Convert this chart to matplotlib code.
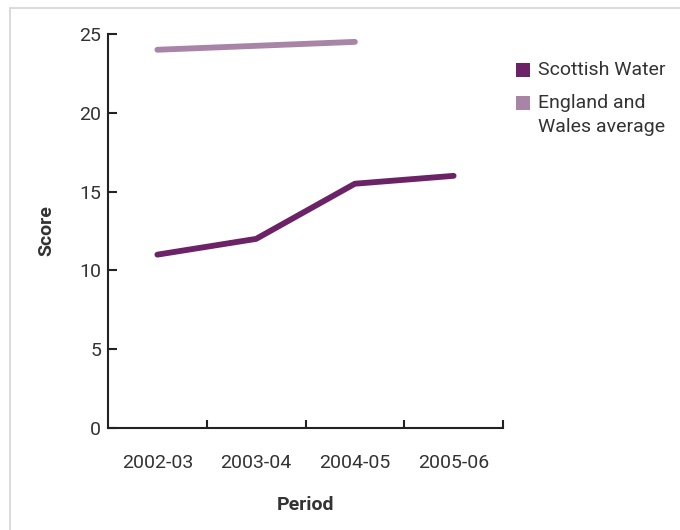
import matplotlib
matplotlib.use("Agg")
import matplotlib.pyplot as plt
from matplotlib.patches import Rectangle

plt.rcParams['font.family'] = ['Roboto', 'DejaVu Sans']

periods = ["2002-03", "2003-04", "2004-05", "2005-06"]
scottish_water = [11, 12, 15.5, 16]
england_wales = [24, 24.25, 24.5]
series_names = ["Scottish Water", "England and\nWales average"]

c_dark = "#6b2266"
c_light = "#a884a6"
txt = "#333333"

W, H = 680, 530
fig = plt.figure(figsize=(6.8, 5.3), dpi=100)
fig.patches.append(Rectangle((10/W, -0.1), 1.2, 1 - 7.5/H + 0.1, transform=fig.transFigure,
                             fill=False, edgecolor="#d4d4d4", linewidth=1.2))
ax = fig.add_axes([108/W, 1 - 428/H, (503 - 108)/W, (428 - 34)/H])

x = list(range(len(periods)))
ax.plot(x, scottish_water, color=c_dark, lw=4.2, solid_capstyle='round', solid_joinstyle='round')
ax.plot(x[:len(england_wales)], england_wales, color=c_light, lw=4.2, solid_capstyle='round')

ax.set_xlim(-0.5, 3.5)
ax.set_ylim(0, 25)
ax.set_yticks([0, 5, 10, 15, 20, 25])
ax.set_xticks(x)
ax.set_xticklabels(periods)
ax.set_xticks([0.5, 1.5, 2.5, 3.5], minor=True)

for s in ["top", "right"]:
    ax.spines[s].set_visible(False)
for s in ["left", "bottom"]:
    ax.spines[s].set_color("#222222")
    ax.spines[s].set_linewidth(1.5)

fs = 14
ax.tick_params(axis='y', direction='in', length=6.5, width=1.5, color="#222222",
               labelsize=fs, labelcolor=txt, pad=5)
ax.tick_params(axis='x', which='major', length=0, labelsize=fs, labelcolor=txt, pad=19)
ax.tick_params(axis='x', which='minor', direction='in', length=6, width=1.5, color="#222222")

ax.set_ylabel("Score", fontsize=fs, fontweight='bold', color=txt, labelpad=17)
ax.set_xlabel("Period", fontsize=fs, fontweight='bold', color=txt, labelpad=17)

# legend (manual, square aligned with first text line)
for name, col, yc in zip(series_names, [c_dark, c_light], [70, 103]):
    fig.patches.append(Rectangle((516/W, 1 - (yc + 7)/H), 14/W, 14/H,
                                 transform=fig.transFigure, facecolor=col, edgecolor='none'))
    fig.text(538/W, 1 - (yc - 9)/H, name, fontsize=fs, color=txt, va='top', ha='left',
             linespacing=1.45)

fig.savefig("out.png", dpi=100)
